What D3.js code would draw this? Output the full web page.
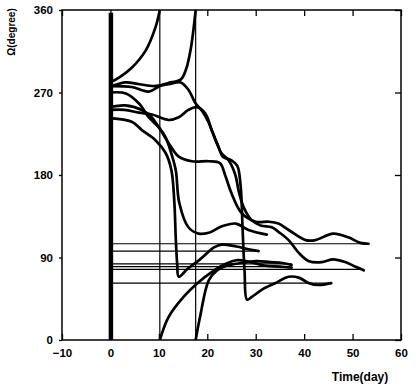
<!DOCTYPE html>
<html><head><meta charset="utf-8">
<script src="https://cdn.jsdelivr.net/npm/d3@7"></script>
<style>
body{margin:0;background:#fff;}
text{font-family:"Liberation Sans",Arial,sans-serif;font-weight:bold;fill:#000;}
</style></head>
<body><svg id="c" width="416" height="388"></svg>
<script>
// tick labels
const xTicks = [-10,0,10,20,30,40,50,60];
const yTicks = [0,90,180,270,360];
// curves: [time(day), Omega(degree)]; a "wrap" splits a curve at 360 -> 0
const curve1a = [[0,281],[2,287],[4.4,297],[7.3,316],[9.3,341],[10.2,360]];
const curve1b = [[10.2,0],[12,25],[15.1,47],[18.2,63],[20.9,74],[23.4,82],[26,87],[29,85],[32,81],[35,80],[37.4,79]];
const curve2a = [[0,277],[4.4,276],[7.9,271],[10.5,278],[12.5,281],[14.5,284],[15.6,295],[16.6,318],[17.6,360]];
const curve2b = [[17.6,0],[18.5,25],[20.3,65],[22,76],[24,81],[27,84],[30,86],[33,85],[35.5,84],[37.4,82]];
const curve3 = [[0,270],[3.2,269],[5.9,258],[7.9,243],[10,232],[11.4,221],[12.6,203],[13.5,185],[14.2,150],[16.1,123],[18.2,116],[20.3,117],[23,124],[25.9,127],[28.5,120],[32.3,115]];
const curve4 = [[0,254],[3,256],[6.5,251],[8.5,243],[10,232],[12,215],[14.1,200],[16.8,195],[20.3,195],[22.6,193],[23.8,178],[25,160],[27,139],[30,129],[32.7,129],[34.7,127],[36.8,120],[40.3,109],[42.3,109],[46,116],[49.1,112],[51.6,106],[53.3,105]];
const curve5 = [[0,251],[2.9,251],[5.9,248],[8.6,246],[12,240],[14.1,243],[16.1,251],[17.8,254],[19.6,247],[20.9,229],[22.3,211],[23.2,200],[25,196],[26.2,190],[26.9,167],[27.3,120],[27.7,75],[28.2,44],[29.2,47],[31.3,55],[34,62],[36.8,69],[38.9,68],[41,62],[43,60],[45.6,62]];
const curve6 = [[0,276],[3,281],[6,279],[9,277],[12,279],[14.5,281],[16.1,273],[17.6,258],[18.9,250],[20.3,237],[21.7,218],[22.9,204],[24.4,196],[25.8,180],[26.5,162],[27.5,145],[29.1,131],[31,125],[33.3,123],[34.7,118],[36.8,109],[38.9,95],[41,86],[43.6,85],[46,88],[48.5,85],[50.6,80],[52.3,76]];
const curve7 = [[0,242],[4.4,238],[6.5,229],[9.3,218],[11.4,204],[12.6,185],[13.2,150],[13.5,110],[13.8,82],[14.1,69],[16,78],[18.5,88],[21.4,101],[23,104],[26,102],[28.5,99],[30.6,97]];
// thin reference lines
const levelValues = [105, 97, 83, 80, 77, 62];
const levelEnds   = [53.3, 30.6, 37.4, 37.4, 52.3, 45.6];
const wrapTimes = [10.2, 17.6];
const startTime = [0.1];

const svg = d3.select("#c");
const x = d3.scaleLinear().domain([-10,60]).range([62,401]);
const y = d3.scaleLinear().domain([0,360]).range([340,10]);

svg.append("clipPath").attr("id","pc").append("rect")
  .attr("x",x(-10)).attr("y",y(360)).attr("width",x(60)-x(-10)).attr("height",y(0)-y(360));
const g = svg.append("g").attr("clip-path","url(#pc)");

g.selectAll("line.lv").data(levelValues).join("line").attr("class","lv")
  .attr("x1",x(0)).attr("x2",(d,i)=>x(levelEnds[i]))
  .attr("y1",d=>y(d)).attr("y2",d=>y(d))
  .attr("stroke","#000").attr("stroke-width",1.1);
g.selectAll("line.wr").data(wrapTimes).join("line").attr("class","wr")
  .attr("x1",d=>x(d)).attr("x2",d=>x(d)).attr("y1",y(0)).attr("y2",y(360))
  .attr("stroke","#000").attr("stroke-width",1.2);
g.selectAll("line.st").data(startTime).join("line").attr("class","st")
  .attr("x1",d=>x(d)).attr("x2",d=>x(d)).attr("y1",y(0)).attr("y2",y(357))
  .attr("stroke","#000").attr("stroke-width",4.5);

const line = d3.line().x(d=>x(d[0])).y(d=>y(d[1])).curve(d3.curveCatmullRom.alpha(0.5));
const curves = [curve1a,curve1b,curve2a,curve2b,curve3,curve4,curve5,curve6,curve7];
g.selectAll("path.cv").data(curves).join("path").attr("class","cv")
  .attr("d",line).attr("fill","none").attr("stroke","#000").attr("stroke-width",2.7)
  .attr("stroke-linejoin","round").attr("stroke-linecap","round");

svg.append("rect").attr("x",x(-10)).attr("y",y(360)).attr("width",x(60)-x(-10)).attr("height",y(0)-y(360))
  .attr("fill","none").attr("stroke","#000").attr("stroke-width",1.5);

const ax = svg.append("g").attr("transform",`translate(0,${y(0)})`)
  .call(d3.axisBottom(x).tickValues(xTicks).tickSizeInner(-6).tickSizeOuter(0).tickPadding(9).tickFormat(d3.format("d")));
const at = svg.append("g").attr("transform",`translate(0,${y(360)})`)
  .call(d3.axisTop(x).tickValues(xTicks).tickSizeInner(-6).tickSizeOuter(0).tickFormat(""));
const ay = svg.append("g").attr("transform",`translate(${x(-10)},0)`)
  .call(d3.axisLeft(y).tickValues(yTicks).tickSizeInner(3).tickSizeOuter(0).tickPadding(6));
const ar = svg.append("g").attr("transform",`translate(${x(60)},0)`)
  .call(d3.axisRight(y).tickValues(yTicks).tickSizeInner(-6).tickSizeOuter(0).tickFormat(""));
[ax,at,ay,ar].forEach(a=>{
  a.select(".domain").remove();
  a.selectAll(".tick line").attr("stroke","#000").attr("stroke-width",1.3);
  a.selectAll("text").attr("font-size",11.5).attr("font-weight","bold")
   .attr("font-family","'Liberation Sans',Arial,sans-serif").attr("fill","#000");
});

svg.append("text").attr("x",360).attr("y",381).attr("text-anchor","middle")
  .attr("font-size",12).text("Time(day)");
svg.append("text").attr("transform","translate(15,32) rotate(-90)").attr("text-anchor","middle")
  .attr("font-size",10).text("Ω(degree)");
</script></body></html>
